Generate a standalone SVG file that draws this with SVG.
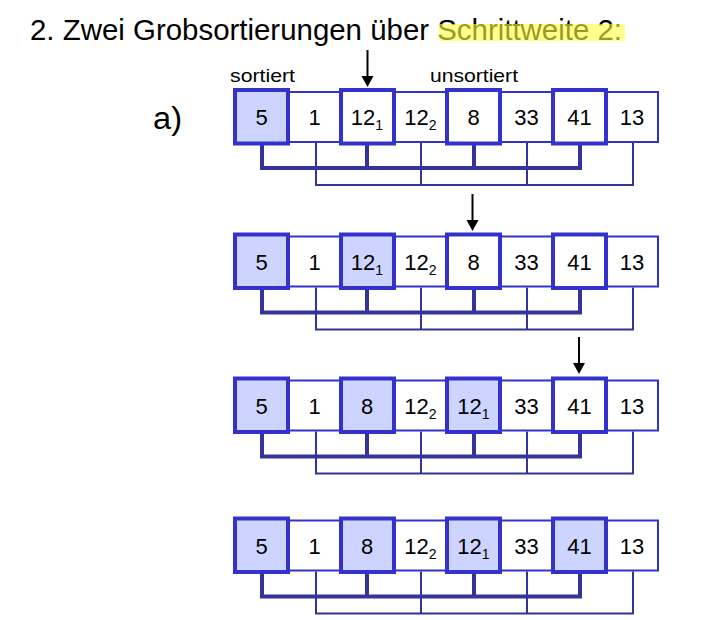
<svg xmlns="http://www.w3.org/2000/svg" width="723" height="620" viewBox="0 0 723 620">
<style>
  .title { font-family: "Liberation Sans", Arial, sans-serif; font-size: 30px; fill: #000; }
  .lbl { font-family: "Liberation Sans", Arial, sans-serif; font-size: 19px; fill: #000; }
  .big { font-family: "Liberation Sans", Arial, sans-serif; font-size: 31px; fill: #000; }
  .num { font-family: "Liberation Sans", Arial, sans-serif; font-size: 22px; fill: #000; text-anchor: middle; }
  .sub { font-size: 14px; }
  .thin { fill: #fff; stroke: #3333cc; stroke-width: 2; }
  .thick { fill: #fff; stroke: #3333cc; stroke-width: 4; }
  .thick.on { fill: #ccd4ff; }
  .c-thick { fill: none; stroke: #333399; stroke-width: 4; }
  .c-thin { fill: none; stroke: #333399; stroke-width: 2; }
  .arrow { stroke: #000; stroke-width: 2; fill: none; }
  .head { fill: #000; }
</style>
<defs>
  <g id="conn">
    <path class="c-thin" d="M316,55 V97 H633 V55 M421,55 V97 M527,55 V97"/>
    <path class="c-thick" d="M262,57 V80 H580 V57 M367,57 V80 M474,57 V80"/>
  </g>
</defs>

<text class="title" x="30" y="40" textLength="592" lengthAdjust="spacingAndGlyphs">2. Zwei Grobsortierungen über Schrittweite 2:</text>
<rect x="439" y="24" width="186" height="17" fill="#ffff40" opacity="0.6"/>

<text class="lbl" x="230" y="82" textLength="65" lengthAdjust="spacingAndGlyphs">sortiert</text>
<text class="lbl" x="430" y="82" textLength="88" lengthAdjust="spacingAndGlyphs">unsortiert</text>
<text class="big" x="153" y="129" textLength="29" lengthAdjust="spacingAndGlyphs">a)</text>

<g id="arrows">
  <g id="arrow1"><path class="arrow" d="M367.5,50 V78"/><polygon class="head" points="361.5,76 373.5,76 367.5,87"/></g>
  <g id="arrow2"><path class="arrow" d="M472.5,194 V222"/><polygon class="head" points="466.5,220 478.5,220 472.5,231"/></g>
  <g id="arrow3"><path class="arrow" d="M579,337 V365"/><polygon class="head" points="573,363 585,363 579,374"/></g>
</g>

<!-- Row 1 -->
<g id="row1" transform="translate(0,88)">
  <g id="row1-connectors"><use href="#conn"/></g>
  <g id="r1c2"><rect class="thin" x="288" y="4" width="53" height="50"/><text class="num" x="314.5" y="37">1</text></g>
  <g id="r1c4"><rect class="thin" x="394" y="4" width="53" height="50"/><text class="num" x="420.5" y="37">12<tspan class="sub" dy="5">2</tspan></text></g>
  <g id="r1c6"><rect class="thin" x="500" y="4" width="53" height="50"/><text class="num" x="526.5" y="37">33</text></g>
  <g id="r1c8"><rect class="thin" x="606" y="4" width="52" height="50"/><text class="num" x="632" y="37">13</text></g>
  <g id="r1c1"><rect class="thick on" x="235" y="2" width="53" height="53.5"/><text class="num" x="261.5" y="37">5</text></g>
  <g id="r1c3"><rect class="thick" x="341" y="2" width="53" height="53.5"/><text class="num" x="367" y="37">12<tspan class="sub" dy="5">1</tspan></text></g>
  <g id="r1c5"><rect class="thick" x="447" y="2" width="53" height="53.5"/><text class="num" x="473.5" y="37">8</text></g>
  <g id="r1c7"><rect class="thick" x="553" y="2" width="53" height="53.5"/><text class="num" x="579.5" y="37">41</text></g>
</g>

<!-- Row 2 -->
<g id="row2" transform="translate(0,232.5)">
  <g id="row2-connectors"><use href="#conn"/></g>
  <g id="r2c2"><rect class="thin" x="288" y="4" width="53" height="50"/><text class="num" x="314.5" y="37">1</text></g>
  <g id="r2c4"><rect class="thin" x="394" y="4" width="53" height="50"/><text class="num" x="420.5" y="37">12<tspan class="sub" dy="5">2</tspan></text></g>
  <g id="r2c6"><rect class="thin" x="500" y="4" width="53" height="50"/><text class="num" x="526.5" y="37">33</text></g>
  <g id="r2c8"><rect class="thin" x="606" y="4" width="52" height="50"/><text class="num" x="632" y="37">13</text></g>
  <g id="r2c1"><rect class="thick on" x="235" y="2" width="53" height="53.5"/><text class="num" x="261.5" y="37">5</text></g>
  <g id="r2c3"><rect class="thick on" x="341" y="2" width="53" height="53.5"/><text class="num" x="367" y="37">12<tspan class="sub" dy="5">1</tspan></text></g>
  <g id="r2c5"><rect class="thick" x="447" y="2" width="53" height="53.5"/><text class="num" x="473.5" y="37">8</text></g>
  <g id="r2c7"><rect class="thick" x="553" y="2" width="53" height="53.5"/><text class="num" x="579.5" y="37">41</text></g>
</g>

<!-- Row 3 -->
<g id="row3" transform="translate(0,376.5)">
  <g id="row3-connectors"><use href="#conn"/></g>
  <g id="r3c2"><rect class="thin" x="288" y="4" width="53" height="50"/><text class="num" x="314.5" y="37">1</text></g>
  <g id="r3c4"><rect class="thin" x="394" y="4" width="53" height="50"/><text class="num" x="420.5" y="37">12<tspan class="sub" dy="5">2</tspan></text></g>
  <g id="r3c6"><rect class="thin" x="500" y="4" width="53" height="50"/><text class="num" x="526.5" y="37">33</text></g>
  <g id="r3c8"><rect class="thin" x="606" y="4" width="52" height="50"/><text class="num" x="632" y="37">13</text></g>
  <g id="r3c1"><rect class="thick on" x="235" y="2" width="53" height="53.5"/><text class="num" x="261.5" y="37">5</text></g>
  <g id="r3c3"><rect class="thick on" x="341" y="2" width="53" height="53.5"/><text class="num" x="367" y="37">8</text></g>
  <g id="r3c5"><rect class="thick on" x="447" y="2" width="53" height="53.5"/><text class="num" x="473.5" y="37">12<tspan class="sub" dy="5">1</tspan></text></g>
  <g id="r3c7"><rect class="thick" x="553" y="2" width="53" height="53.5"/><text class="num" x="579.5" y="37">41</text></g>
</g>

<!-- Row 4 -->
<g id="row4" transform="translate(0,516.5)">
  <g id="row4-connectors"><use href="#conn"/></g>
  <g id="r4c2"><rect class="thin" x="288" y="4" width="53" height="50"/><text class="num" x="314.5" y="37">1</text></g>
  <g id="r4c4"><rect class="thin" x="394" y="4" width="53" height="50"/><text class="num" x="420.5" y="37">12<tspan class="sub" dy="5">2</tspan></text></g>
  <g id="r4c6"><rect class="thin" x="500" y="4" width="53" height="50"/><text class="num" x="526.5" y="37">33</text></g>
  <g id="r4c8"><rect class="thin" x="606" y="4" width="52" height="50"/><text class="num" x="632" y="37">13</text></g>
  <g id="r4c1"><rect class="thick on" x="235" y="2" width="53" height="53.5"/><text class="num" x="261.5" y="37">5</text></g>
  <g id="r4c3"><rect class="thick on" x="341" y="2" width="53" height="53.5"/><text class="num" x="367" y="37">8</text></g>
  <g id="r4c5"><rect class="thick on" x="447" y="2" width="53" height="53.5"/><text class="num" x="473.5" y="37">12<tspan class="sub" dy="5">1</tspan></text></g>
  <g id="r4c7"><rect class="thick on" x="553" y="2" width="53" height="53.5"/><text class="num" x="579.5" y="37">41</text></g>
</g>
</svg>
